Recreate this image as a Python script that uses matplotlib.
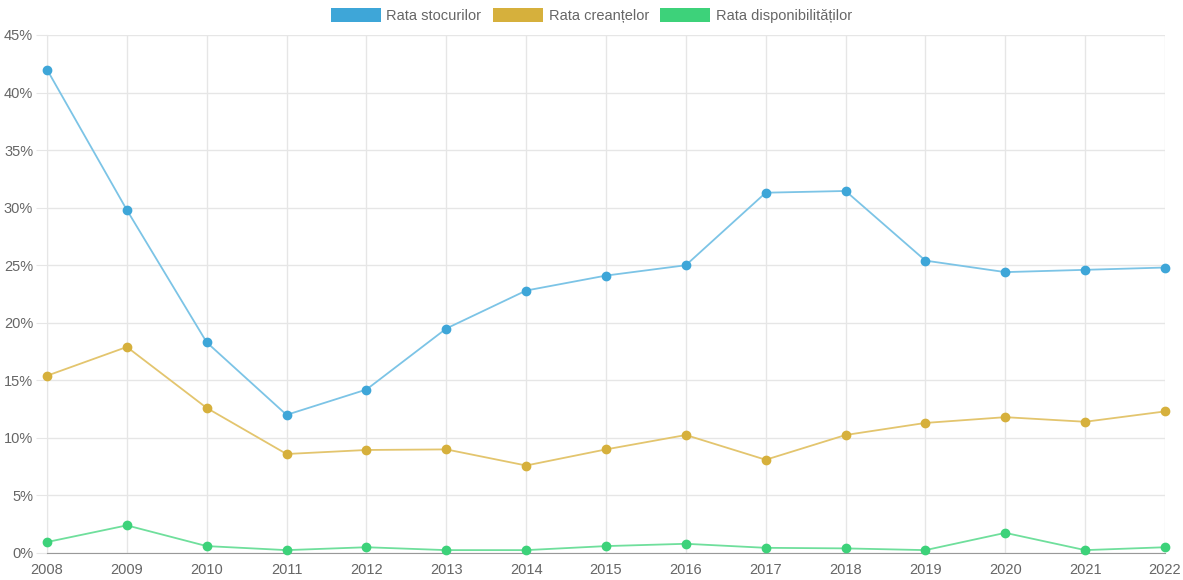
import matplotlib.pyplot as plt
from matplotlib.patches import Patch
from matplotlib.ticker import FuncFormatter

ani = [2008, 2009, 2010, 2011, 2012, 2013, 2014, 2015, 2016, 2017, 2018, 2019, 2020, 2021, 2022]
stocuri = [42.0, 29.8, 18.3, 12.0, 14.2, 19.5, 22.8, 24.1, 25.0, 31.3, 31.45, 25.4, 24.4, 24.6, 24.8]
creante = [15.4, 17.9, 12.6, 8.6, 8.95, 9.0, 7.6, 9.0, 10.25, 8.1, 10.25, 11.3, 11.8, 11.4, 12.3]
disponib = [0.95, 2.4, 0.6, 0.25, 0.5, 0.25, 0.25, 0.6, 0.8, 0.45, 0.4, 0.25, 1.75, 0.25, 0.5]

serii = [
    ('Rata stocurilor', stocuri, '#3ea6d8', '#7cc4e6'),
    ('Rata creanțelor', creante, '#d6b03c', '#e3c56e'),
    ('Rata disponibilităților', disponib, '#3dd27a', '#6fdf9c'),
]

plt.rcParams['font.family'] = ['Liberation Sans', 'DejaVu Sans']

W, H = 1183, 580
fig = plt.figure(figsize=(W / 100, H / 100), dpi=100)
ax = fig.add_axes([47 / W, 1 - 553 / H, (1165 - 47) / W, (553 - 35) / H])

for nume, val, cpunct, clinie in serii:
    ax.plot(ani, val, color=clinie, linewidth=1.3, zorder=2, clip_on=False)
    ax.plot(ani, val, linestyle='none', marker='o', markersize=6,
            color=cpunct, zorder=3, clip_on=False)

ax.set_xlim(2008, 2022)
ax.set_ylim(0, 45)
ax.set_xticks(ani)
ax.set_yticks(range(0, 46, 5))
ax.yaxis.set_major_formatter(FuncFormatter(lambda v, p: f'{int(v)}%'))

ax.grid(True, color='#e6e6e6', linewidth=1)
ax.set_axisbelow(True)
for s in ['top', 'right']:
    ax.spines[s].set_visible(False)
ax.spines['left'].set_color('#e6e6e6')
ax.spines['bottom'].set_color('#999999')
ax.tick_params(axis='both', colors='#e6e6e6', labelcolor='#666666', labelsize=10.5, length=8)
ax.tick_params(axis='x', length=0, pad=7)
ax.tick_params(axis='y', pad=2)

handles = [Patch(facecolor=c, edgecolor='none') for _, _, c, _ in serii]
fig.legend(handles, [s[0] for s in serii], loc='upper center', bbox_to_anchor=(0.5, 1.008),
           ncol=3, frameon=False, fontsize=10.5, labelcolor='#666666',
           handlelength=3.4, handleheight=1.1, columnspacing=0.8, handletextpad=0.4)

fig.savefig('out.png', dpi=100)
